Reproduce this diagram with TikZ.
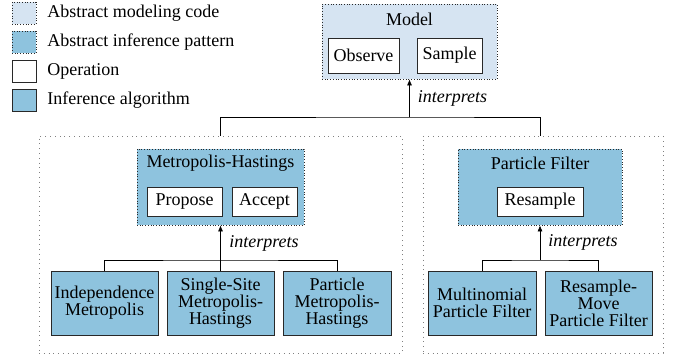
\documentclass[tikz,border=0pt]{standalone}
\usepackage{fontspec}
\setmainfont{Liberation Serif}
\usetikzlibrary{arrows.meta}

\definecolor{modelfill}{RGB}{214,228,242}
\definecolor{algofill}{RGB}{142,195,222}
\definecolor{edgegray}{RGB}{40,40,40}

\tikzset{
  base/.style={font=\fontsize{18}{17}\selectfont, inner sep=0pt},
  modelbox/.style={base, draw=edgegray, dotted, fill=modelfill},
  patbox/.style={base, draw=edgegray, dotted, fill=algofill},
  opbox/.style={base, draw=edgegray, fill=white, minimum height=29pt},
  algbox/.style={base, draw=edgegray, fill=algofill, align=center, minimum height=64pt},
  groupbox/.style={base, draw=gray, dash pattern=on 0.8pt off 4pt, minimum height=217pt},
  legtext/.style={base, anchor=west},
  arr/.style={-{Latex[length=6pt,width=5pt]}},
}

\begin{document}
\begin{tikzpicture}[x=1pt,y=-1pt,line width=0.7pt]
\useasboundingbox (0,0) rectangle (678,357);

% legend
\node[modelbox, minimum width=24pt, minimum height=22pt] (legmodel) at (24,13) {};
\node[patbox, minimum width=24pt, minimum height=22pt] (legpat) at (24,42) {};
\node[opbox, minimum width=24pt, minimum height=22pt] (legop) at (24,71) {};
\node[algbox, minimum width=24pt, minimum height=22pt] (legalg) at (24,100) {};
\node[legtext] (legmodeltxt) at (47,13) {Abstract modeling code};
\node[legtext] (legpattxt) at (47,42) {Abstract inference pattern};
\node[legtext] (legoptxt) at (47,71) {Operation};
\node[legtext] (legalgtxt) at (47,100) {Inference algorithm};

% model
\node[modelbox, minimum width=175pt, minimum height=75pt] (model) at (409.5,41.5) {};
\node[base] (modeltitle) at (409.5,19) {Model};
\node[opbox, minimum width=71pt, minimum height=35pt] (observe) at (363.5,55.5) {Observe};
\node[opbox, minimum width=65pt, minimum height=35pt] (sample) at (449.5,55.5) {Sample};

% groups
\node[groupbox, minimum width=363pt] (mhgroup) at (220.5,244.5) {};
\node[groupbox, minimum width=240pt] (pfgroup) at (543,244.5) {};

% metropolis-hastings
\node[patbox, minimum width=167pt, minimum height=76pt] (mh) at (220.5,187) {};
\node[base] (mhtitle) at (220.5,163) {Metropolis-Hastings};
\node[opbox, minimum width=75pt] (propose) at (184.5,201.5) {Propose};
\node[opbox, minimum width=65pt] (accept) at (264.5,201.5) {Accept};
\node[algbox, minimum width=107pt] (indep) at (104.5,303) {Independence\\Metropolis};
\node[algbox, minimum width=107pt] (ssmh) at (220.5,303) {Single-Site\\Metropolis-\\Hastings};
\node[algbox, minimum width=108pt] (pmh) at (337,303) {Particle\\Metropolis-\\Hastings};

% particle filter
\node[patbox, minimum width=164pt, minimum height=76pt] (pf) at (540,187) {};
\node[base] (pftitle) at (540,163) {Particle Filter};
\node[opbox, minimum width=86pt] (resample) at (540,201.5) {Resample};
\node[algbox, minimum width=108pt] (mpf) at (482,303) {Multinomial\\Particle Filter};
\node[algbox, minimum width=107pt] (rmpf) at (598.5,303) {Resample-\\Move\\Particle Filter};

% connectors
\coordinate (topbar) at (409.5,117);
\coordinate (mhbar) at (220.5,260);
\coordinate (pfbar) at (540,260);
\draw (mhgroup.north -| mh.north) |- (topbar) -| (pfgroup.north -| pf.north);
\draw[arr] (topbar) -- (model.south) node[base, pos=0.5, anchor=west, xshift=8pt, font=\fontsize{18}{17}\selectfont\itshape] (interp1) {interprets};
\draw (indep.north) |- (mhbar) -| (pmh.north);
\draw[arr] (ssmh.north) -- (mh.south);
\node[base, anchor=west, font=\fontsize{18}{17}\selectfont\itshape] (interp2) at (229,243) {interprets};
\draw (mpf.north) |- (pfbar) -| (rmpf.north);
\draw[arr] (pfbar) -- (pf.south) node[base, pos=0.5, anchor=west, xshift=8pt, font=\fontsize{18}{17}\selectfont\itshape] (interp3) {interprets};

\end{tikzpicture}
\end{document}
